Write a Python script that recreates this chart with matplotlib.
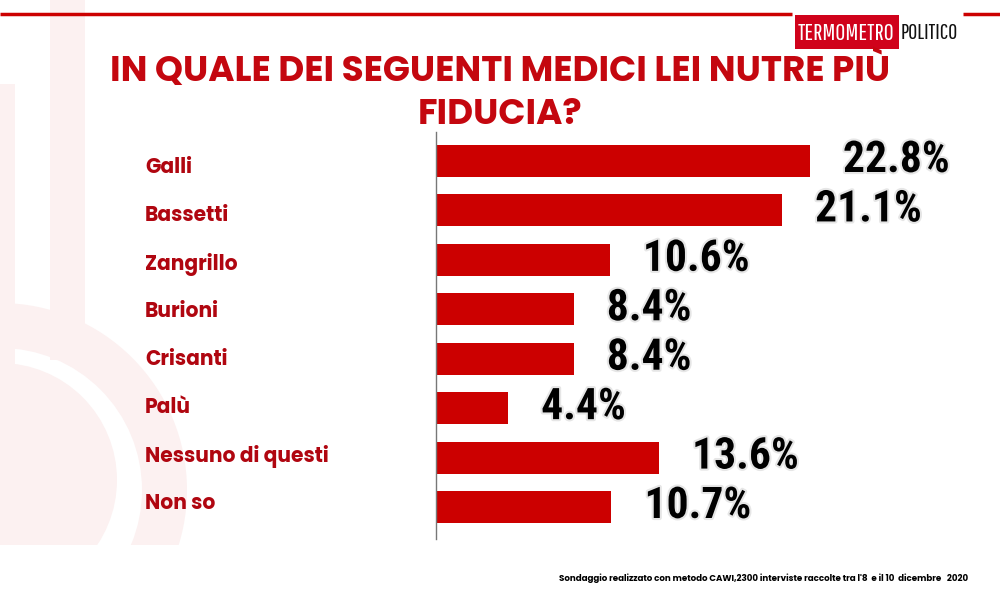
import matplotlib
matplotlib.use("Agg")
import matplotlib.pyplot as plt
from matplotlib.patches import Rectangle, Wedge
import matplotlib.patheffects as pe

categories = ["Galli", "Bassetti", "Zangrillo", "Burioni", "Crisanti", "Palù",
              "Nessuno di questi", "Non so"]
values = [22.8, 21.1, 10.6, 8.4, 8.4, 4.4, 13.6, 10.7]
value_labels = ["22.8%", "21.1%", "10.6%", "8.4%", "8.4%", "4.4%", "13.6%", "10.7%"]

title = "IN QUALE DEI SEGUENTI MEDICI LEI NUTRE PIÙ\nFIDUCIA?"
footer = "Sondaggio realizzato con metodo CAWI,2300 interviste raccolte tra l'8  e il 10  dicembre   2020"

RED = "#cc0000"
TITLE_RED = "#c4070f"
LABEL_RED = "#b00610"
PINK = "#fcf1f1"
HEAD_FONT = "Poppins"
NUM_FONT = "Roboto Condensed"
LOGO_FONT = "Pathway Gothic One"

W, H = 1000, 599
fig = plt.figure(figsize=(10, 5.99), dpi=100)
renderer = fig.canvas.get_renderer()


def fit(t, width):
    w = t.get_window_extent(renderer).width
    t.set_fontsize(t.get_fontsize() * width / w)
    return t


# background decoration in pixel coordinates
bg = fig.add_axes([0, 0, 1, 1])
bg.set_xlim(0, W)
bg.set_ylim(H, 0)
bg.axis("off")
bg.add_patch(Rectangle((50, 0), 35, 360, color=PINK, lw=0))
bg.add_patch(Wedge((0, 490), 187, -90, 90, width=45, color=PINK, lw=0))
bg.add_patch(Rectangle((0, 84), 15, 300, color=PINK, lw=0))
bg.add_patch(Wedge((0, 480), 117, -90, 90, color=PINK, lw=0))
bg.add_patch(Rectangle((0, 545), 300, 60, color="white", lw=0))

# top red line and logo
bg.plot([0, 792], [14, 14], color=RED, lw=2.5, solid_capstyle="butt")
bg.plot([963, 1000], [14, 14], color=RED, lw=2.5, solid_capstyle="butt")
bg.add_patch(Rectangle((795, 15), 104, 34, color="#d0021b", lw=0))
t = bg.text(846.5, 33, "TERMOMETRO", color="white", fontsize=20, ha="center",
            va="center", family=LOGO_FONT)
fit(t, 97)
t = bg.text(929.5, 33, "POLITICO", color="#111111", fontsize=20, ha="center",
            va="center", family=LOGO_FONT)
fit(t, 58)

# title
t = bg.text(500, 92.5, title, color=TITLE_RED, fontsize=20, fontweight="bold", ha="center",
            va="center", family=HEAD_FONT, linespacing=1.3)
fit(t, 780)

# footer
t = bg.text(968, 578, footer, color="black", fontsize=6, fontweight="bold", ha="right",
            va="center", family=HEAD_FONT)
fit(t, 413)

# main chart axes
x0, x1 = 436, 986
y_top, y_bot = 132, 539
ax = fig.add_axes([x0 / W, 1 - y_bot / H, (x1 - x0) / W, (y_bot - y_top) / H])
ax.patch.set_alpha(0)
pos = list(range(len(categories)))
ax.barh(pos, values, height=0.65, color=RED, edgecolor="none")
ax.set_xlim(0, (x1 - x0) / 16.4)
spacing = (507 - 161) / 7
ax.set_ylim(7 + (y_bot - 507) / spacing, -(161 - y_top) / spacing)
for s in ["top", "right", "bottom"]:
    ax.spines[s].set_visible(False)
ax.spines["left"].set_color("#777777")
ax.spines["left"].set_linewidth(1)
ax.set_xticks([])
ax.set_yticks([])

num_size = None
for p, v, lab in zip(pos, values, value_labels)        :
    a = ax.annotate(lab, (v, p), xytext=(33, 1), textcoords="offset pixels",
                    ha="left", va="center", fontsize=24, fontweight="bold",
                    family=NUM_FONT, color="black",
                    path_effects=[pe.withStroke(linewidth=3, foreground="#e6e6e6")])
    if num_size is None:
        fit(a, 107)
        num_size = a.get_fontsize()
    else:
        a.set_fontsize(num_size)

texts = []
for i, c in enumerate(categories):
    tt = bg.text(145, 168 + i * 48, c, color=LABEL_RED, fontsize=13, fontweight="bold",
                 ha="left", va="center", family=HEAD_FONT)
    texts.append(tt)
fit(texts[6], 184)
for tt in texts:
    tt.set_fontsize(texts[6].get_fontsize())

fig.savefig("out.png", dpi=100)
